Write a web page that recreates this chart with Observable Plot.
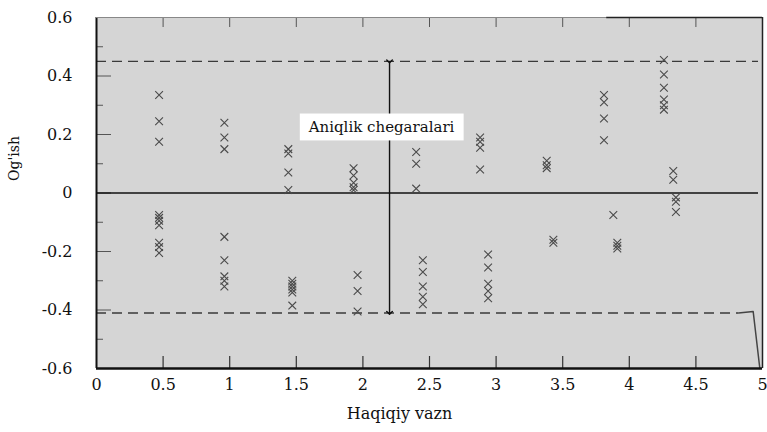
<!DOCTYPE html>
<html><head><meta charset="utf-8">
<script src="https://cdn.jsdelivr.net/npm/d3@7"></script>
<script src="https://cdn.jsdelivr.net/npm/@observablehq/plot@0.6"></script>
<style>
body{margin:0;background:#fff;}
#chart svg{display:block;}
</style></head><body><div id="chart"></div>
<script>
// Measured errors (x = actual weight, y = deviation)
const ptX = [
  0.47,0.47,0.47, 0.47,0.47,0.47,0.47,0.47,0.47,0.47,
  0.96,0.96,0.96, 0.96,0.96,0.96,0.96,0.96,
  1.44,1.44,1.44,1.44, 1.47,1.47,1.47,1.47,1.47,1.47,
  1.93,1.93,1.93,1.93,1.93, 1.96,1.96,1.96,
  2.40,2.40,2.40, 2.45,2.45,2.45,2.45,2.45,
  2.88,2.88,2.88,2.88, 2.94,2.94,2.94,2.94,2.94,
  3.38,3.38,3.38, 3.43,3.43,
  3.81,3.81,3.81,3.81, 3.88, 3.91,3.91,3.91,
  4.26,4.26,4.26,4.26,4.26,4.26, 4.33,4.33, 4.35,4.35,4.35
];
const ptY = [
  0.335,0.245,0.175, -0.075,-0.085,-0.095,-0.11,-0.17,-0.185,-0.205,
  0.24,0.19,0.15, -0.15,-0.23,-0.285,-0.30,-0.32,
  0.15,0.135,0.07,0.01, -0.30,-0.31,-0.32,-0.33,-0.34,-0.385,
  0.085,0.06,0.035,0.02,0.01, -0.28,-0.335,-0.405,
  0.14,0.10,0.015, -0.23,-0.27,-0.32,-0.355,-0.38,
  0.19,0.175,0.155,0.08, -0.21,-0.255,-0.31,-0.335,-0.36,
  0.11,0.095,0.085, -0.16,-0.17,
  0.335,0.31,0.255,0.18, -0.075, -0.17,-0.18,-0.19,
  0.455,0.405,0.36,0.32,0.30,0.285, 0.075,0.045, -0.015,-0.03,-0.065
];
const xTicks = [0,0.5,1,1.5,2,2.5,3,3.5,4,4.5,5];
const yTicks = [-0.6,-0.4,-0.2,0,0.2,0.4,0.6];
const yMinorTicks = [-0.5,-0.3,-0.1,0.1,0.3,0.5];
const upperLimit = 0.45;
const lowerLimit = -0.41;
const limitEndUpper = 4.97;
const limitEndLower = 4.82;
const arrowX = 2.2;
const labelText = "Aniqlik chegaralari";
const labelX = 2.14;
const labelY = 0.224;
const labelBoxX = [1.53, 2.76];
const labelBoxY = [0.178, 0.27];
const xLabel = "Haqiqiy vazn";
const yLabel = "Og'ish";
const cornerX = [4.82, 4.93, 4.98];
const cornerY = [-0.41, -0.405, -0.6];
const topDarkStart = 3.83;

const points = ptX.map((x, i) => ({x, y: ptY[i]}));
const corner = cornerX.map((x, i) => ({x, y: cornerY[i]}));
const font = "DejaVu Serif, serif";

const chart = Plot.plot({
  width: 767,
  height: 432,
  marginLeft: 96,
  marginRight: 5,
  marginTop: 17,
  marginBottom: 64,
  style: {fontFamily: font, fontSize: "16px", background: "white", color: "#111"},
  x: {domain: [0, 5]},
  y: {domain: [-0.6, 0.6]},
  marks: [
    Plot.frame({fill: "#d5d5d5", stroke: null}),
    // inner ticks
    Plot.ruleX(xTicks.slice(1, -1), {x: d => d, insetTop: 339, stroke: "#333", strokeWidth: 1.2}),
    Plot.ruleX(xTicks.slice(1, -1), {x: d => d, insetBottom: 341, stroke: "#555", strokeWidth: 1}),
    Plot.ruleY(yTicks, {y: d => d, insetRight: 651, stroke: "#555", strokeWidth: 1}),
    Plot.ruleY(yMinorTicks, {y: d => d, insetRight: 659, stroke: "#555", strokeWidth: 1}),
    // limits
    Plot.ruleY([upperLimit], {x1: 0, x2: limitEndUpper, stroke: "#3a3a3a", strokeWidth: 1.4, strokeDasharray: "10,6"}),
    Plot.ruleY([lowerLimit], {x1: 0, x2: limitEndLower, stroke: "#3a3a3a", strokeWidth: 1.4, strokeDasharray: "10,6"}),
    Plot.line(corner, {x: "x", y: "y", stroke: "#444", strokeWidth: 1.5}),
    Plot.ruleY([0], {x1: 0, x2: limitEndUpper, stroke: "#111", strokeWidth: 1.5}),
    // arrow
    Plot.link([{x: arrowX}], {x1: "x", x2: "x", y1: upperLimit, y2: lowerLimit, stroke: "#111", strokeWidth: 1.4, markerStart: "arrow", markerEnd: "arrow"}),
    // points
    Plot.dot(points, {x: "x", y: "y", symbol: "times", r: 3.6, stroke: "#4a4a4a", strokeWidth: 1.1}),
    // label with white box
    Plot.rect([0], {x1: labelBoxX[0], x2: labelBoxX[1], y1: labelBoxY[0], y2: labelBoxY[1], fill: "white"}),
    Plot.text([labelText], {x: labelX, y: labelY, fontSize: 15, fill: "#111", fontFamily: font}),
    // frame borders
    Plot.ruleX([0], {stroke: "#111", strokeWidth: 2}),
    Plot.ruleX([5], {stroke: "#222", strokeWidth: 1.5}),
    Plot.ruleY([-0.6], {stroke: "#111", strokeWidth: 2.5}),
    Plot.ruleY([0.6], {x1: 0, x2: topDarkStart, stroke: "#888", strokeWidth: 1}),
    Plot.ruleY([0.6], {x1: topDarkStart, x2: 5, stroke: "#222", strokeWidth: 1.5}),
    // axes
    Plot.axisX({ticks: xTicks, tickSize: 0, tickPadding: 10, tickFormat: d => String(d), fontSize: 16, fontFamily: font, label: null}),
    Plot.axisY({ticks: yTicks, tickSize: 0, tickPadding: 24, tickFormat: d => String(d), fontSize: 16, fontFamily: font, label: null}),
    Plot.text([xLabel], {frameAnchor: "bottom", dx: -30, dy: 50, fontSize: 16, fill: "#111", fontFamily: font}),
    Plot.text([yLabel], {frameAnchor: "left", rotate: -90, dx: -82, dy: -12, fontSize: 14, fill: "#111", fontFamily: font})
  ]
});

document.getElementById("chart").appendChild(chart);
</script>
</body></html>
